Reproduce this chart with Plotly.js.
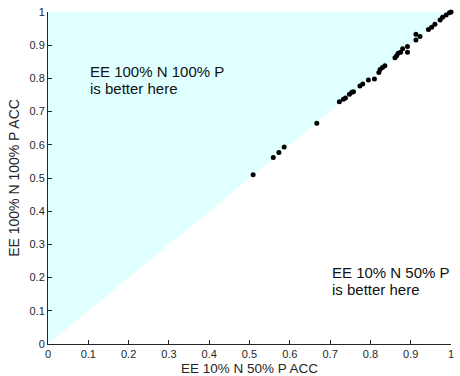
<!DOCTYPE html>
<html>
<head>
<meta charset="utf-8">
<script src="https://cdn.plot.ly/plotly-3.0.1.min.js"></script>
<style>html,body{margin:0;padding:0;background:#fff;}#chart{width:460px;height:376px;}</style>
</head>
<body>
<div id="chart"></div>
<script>
// Accuracy of the two configurations (one point per test case)
const accLow = [0.509,0.559,0.573,0.586,0.667,0.723,0.733,0.738,0.748,0.754,0.758,0.774,0.781,0.795,0.810,0.821,0.824,0.830,0.836,0.861,0.865,0.869,0.875,0.880,0.892,0.892,0.913,0.913,0.923,0.944,0.952,0.960,0.973,0.979,0.988,0.996,1.0];
const accFull = [0.510,0.562,0.577,0.593,0.665,0.730,0.737,0.741,0.752,0.758,0.760,0.777,0.783,0.795,0.798,0.818,0.827,0.833,0.838,0.862,0.868,0.876,0.879,0.889,0.879,0.896,0.916,0.933,0.926,0.947,0.954,0.963,0.976,0.984,0.991,0.998,1.0];
const tickVals = [0,0.1,0.2,0.3,0.4,0.5,0.6,0.7,0.8,0.9,1];
const tickText = ['0','0.1','0.2','0.3','0.4','0.5','0.6','0.7','0.8','0.9','1'];
const xLabel = 'EE 10% N 50% P ACC';
const yLabel = 'EE 100% N 100% P ACC';
const upperText = ['EE 100% N 100% P', 'is better here'];
const lowerText = ['EE 10% N 50% P', 'is better here'];

const axisColor = '#262626';
const font = 'Liberation Sans, Arial, Helvetica, sans-serif';

const trace = {
  x: accLow, y: accFull, type: 'scatter', mode: 'markers',
  marker: {color: '#000', size: 5},
  cliponaxis: false, hoverinfo: 'skip', showlegend: false
};

function axis(title, size) {
  return {
    range: [0, 1], tickvals: tickVals, ticktext: tickText,
    showline: true, linecolor: axisColor, linewidth: 1,
    ticks: 'inside', ticklen: 4, tickcolor: axisColor, tickwidth: 1,
    showgrid: false, zeroline: false, mirror: false,
    tickfont: {family: font, size: 11, color: axisColor},
    title: {text: title, font: {family: font, size: size, color: axisColor}, standoff: 4},
    fixedrange: true
  };
}

const xa = axis(xLabel, 13.5);
const ya = axis(yLabel, 14);
ya.title.standoff = 6;

function lines(arr, x, yTop, step) {
  return arr.map((t, i) => ({
    text: t, x: x, y: yTop - i * step, xref: 'x', yref: 'y',
    xanchor: 'left', yanchor: 'top', showarrow: false,
    font: {family: font, size: 15, color: '#111'}
  }));
}

const layout = {
  width: 460, height: 376,
  margin: {l: 48, r: 9, t: 12, b: 32},
  paper_bgcolor: '#fff', plot_bgcolor: '#fff',
  xaxis: xa, yaxis: ya,
  shapes: [{
    type: 'path', xref: 'x', yref: 'y', path: 'M0,0 L1,1 L0,1 Z',
    fillcolor: 'rgb(224,255,255)', line: {width: 0}, layer: 'below'
  }],
  annotations: lines(upperText, 0.099, 0.853, 0.052).concat(lines(lowerText, 0.70, 0.247, 0.052))
};

Plotly.newPlot('chart', [trace], layout, {staticPlot: true, displayModeBar: false});
</script>
</body>
</html>
